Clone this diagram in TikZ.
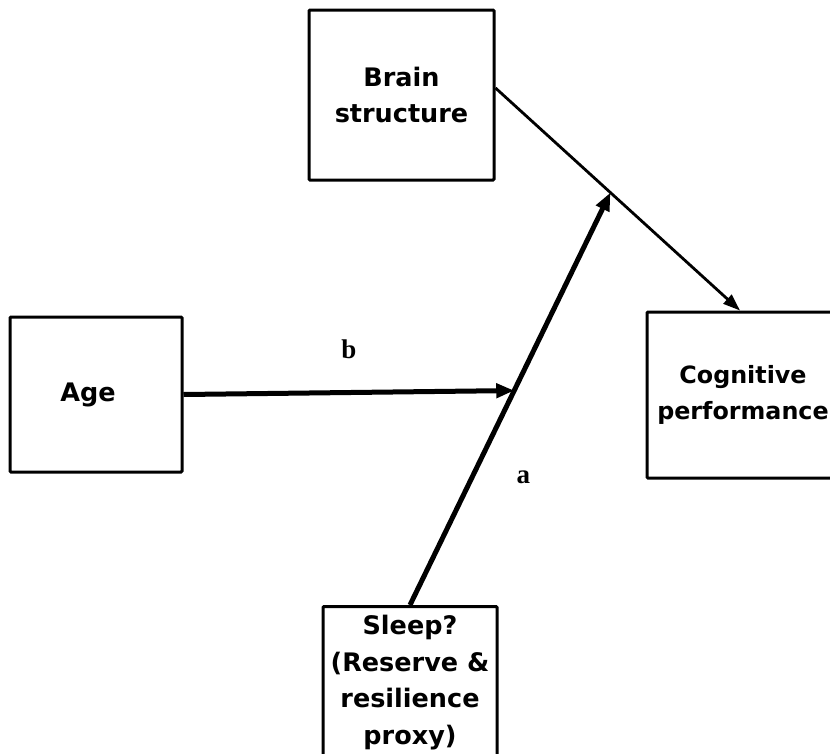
\documentclass[tikz,border=0pt]{standalone}
\usepackage{fontspec}
\newfontfamily\boxfont{DejaVu Sans}
\newfontfamily\lblfont{Liberation Serif}
\usetikzlibrary{arrows.meta}

\begin{document}
\begin{tikzpicture}[
  x=1pt,y=-1pt,
  box/.style={rectangle,draw=black,line width=3pt,rounded corners=1pt,inner sep=0pt,
              align=center,font=\boxfont\bfseries\fontsize{25.5}{36.5}\selectfont},
  arrow/.style={-{Triangle[length=17pt,width=12pt]},black,line width=2.8pt},
  thickarrow/.style={arrow,-{Triangle[length=18pt,width=14pt]},line width=5pt},
  lbl/.style={inner sep=0pt,font=\lblfont\bfseries\fontsize{27}{30}\selectfont},
]
\clip (0,0) rectangle (830,753);
\node[box,minimum width=185pt,minimum height=170pt] (brain) at (401.5,95) {Brain\\structure};
\node[box,minimum width=172pt,minimum height=155pt] (age)   at (96,394.5) {Age\hspace*{16pt}};
\node[box,minimum width=192pt,minimum height=166pt,font=\boxfont\bfseries\fontsize{23.8}{36}\selectfont]
     (cog) at (743,395) {Cognitive\\performance};
\node[box,minimum width=174pt,inner ysep=9pt,anchor=north] (sleep) at (410,605)
     {Sleep?\\(Reserve \&\\resilience\\proxy)};
% brain -> cognition, with the moderation point on it
\draw[arrow] ([yshift=7pt]brain.east) -- coordinate[pos=0.47] (modpt) ([xshift=-3pt]cog.north);
\draw[thickarrow] (sleep.north) -- coordinate[pos=0.52] (agept)
      node[lbl,pos=0.31,right=42pt]{a} (modpt);
\draw[thickarrow] (age.east) -- node[lbl,above=31pt]{b} (agept);
\end{tikzpicture}
\end{document}
